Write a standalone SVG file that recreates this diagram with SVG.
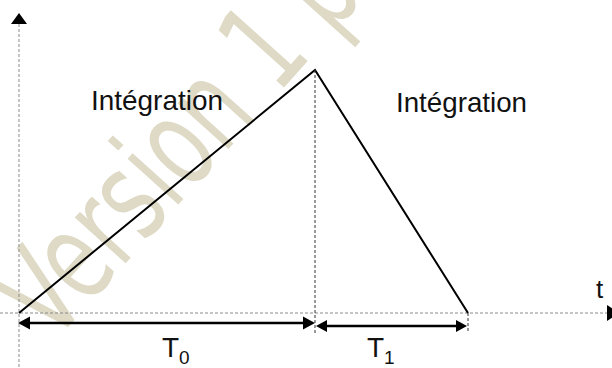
<svg xmlns="http://www.w3.org/2000/svg" width="612" height="368" viewBox="0 0 612 368">
<defs>
<style>
.axis{stroke:#8a8a8a;stroke-width:1;stroke-dasharray:3,2;fill:none}
.guide{stroke:#333;stroke-width:1;stroke-dasharray:3,2;fill:none}
.curve{stroke:#000;stroke-width:2;fill:none;stroke-linejoin:miter}
.dim{stroke:#000;stroke-width:2.5;fill:none}
.head{fill:#000}
.lbl{font-family:"Liberation Sans",Arial,sans-serif;fill:#111}
.wm{font-family:"DejaVu Sans Condensed","DejaVu Sans",sans-serif;fill:#dedac6}
</style>
</defs>
<rect width="612" height="368" fill="#fff"/>
<g id="watermark">
<text class="wm" font-size="125" transform="translate(52,345) rotate(-48) scale(0.75,1)">Version 1 p</text>
</g>
<g id="axes">
<line class="axis" x1="19" y1="24" x2="19" y2="368"/>
<polygon class="head" points="11,24 19,13 27,24"/>
<line class="axis" x1="0" y1="313" x2="607" y2="313"/>
<polygon class="head" points="607,305 619,313 607,321"/>
</g>
<g id="curve">
<polyline class="curve" points="19,313 315,70 468,313"/>
</g>
<g id="connectors">
<line class="guide" x1="315" y1="70" x2="315" y2="333"/>
<line class="guide" x1="468" y1="313" x2="468" y2="331"/>
<line class="dim" x1="28" y1="323" x2="306" y2="323"/>
<polygon class="head" points="18,323 30,316.5 30,329.5"/>
<polygon class="head" points="315,323 303,316.5 303,329.5"/>
<line class="dim" x1="325" y1="326" x2="458" y2="326"/>
<polygon class="head" points="316,326 327,320 327,332"/>
<polygon class="head" points="467,326 456,320 456,332"/>
</g>
<g id="label-left">
<text class="lbl" x="91" y="110" font-size="28" textLength="132" lengthAdjust="spacingAndGlyphs">Intégration</text>
</g>
<g id="label-right">
<text class="lbl" x="396" y="112" font-size="28" textLength="131" lengthAdjust="spacingAndGlyphs">Intégration</text>
</g>
<g id="label-t">
<text class="lbl" x="596" y="298" font-size="26">t</text>
</g>
<g id="label-T0">
<text class="lbl" x="162" y="357" font-size="28">T<tspan font-size="19" dy="7">0</tspan></text>
</g>
<g id="label-T1">
<text class="lbl" x="367" y="357" font-size="28">T<tspan font-size="19" dy="7">1</tspan></text>
</g>
</svg>
